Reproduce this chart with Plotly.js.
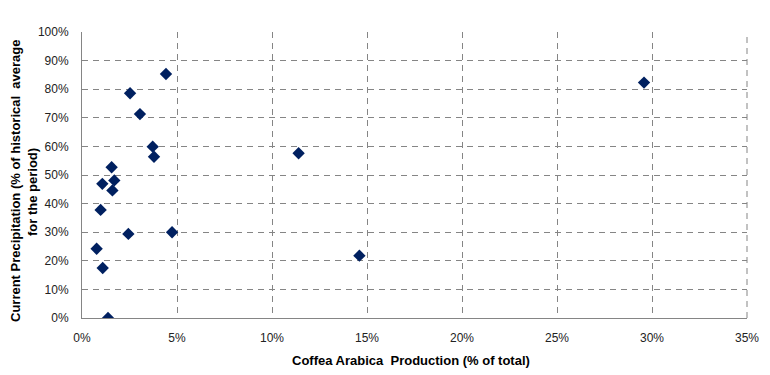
<!DOCTYPE html>
<html>
<head>
<meta charset="utf-8">
<script src="https://cdn.plot.ly/plotly-3.0.1.min.js"></script>
<style>html,body{margin:0;padding:0;background:#fff;}#chart{width:770px;height:375px;}</style>
</head>
<body>
<div id="chart"></div>
<script>
const production = [4.42, 2.53, 3.05, 3.72, 3.79, 1.56, 1.07, 1.70, 1.60, 0.98, 2.44, 4.74, 0.77, 1.09, 1.37, 11.40, 14.60, 29.58];
const precipitation = [85.3, 78.6, 71.3, 59.9, 56.4, 52.7, 46.9, 48.1, 44.6, 37.8, 29.4, 30.0, 24.2, 17.5, 0.0, 57.6, 21.8, 82.3];
const xTicks = [0, 5, 10, 15, 20, 25, 30, 35];
const yTicks = [0, 10, 20, 30, 40, 50, 60, 70, 80, 90, 100];
const xTitle = 'Coffea Arabica  Production (% of total)';
const yTitleLines = ['Current Precipitation (% of historical  average', 'for the period)'];

const trace = {
  type: 'scatter', mode: 'markers',
  x: production.map(v => v / 100),
  y: precipitation.map(v => v / 100),
  marker: {symbol: 'diamond', size: 9.5, color: '#002060', line: {width: 0}},
  hoverinfo: 'x+y'
};

const gridCol = '#858585';
const dashPat = '6px,5px';
// plot area in pixels: left 82, right 747, top 32, bottom 318
const L = 82, R = 747, T = 32, B = 318;
const px = x => (x - L) / (R - L);
const py = y => (B - y) / (B - T);
const titleFont = {family: 'Liberation Sans, Arial, sans-serif', size: 13, color: '#000'};

const layout = {
  width: 770, height: 375,
  margin: {l: L, r: 770 - R, t: T, b: 375 - B},
  paper_bgcolor: '#fff', plot_bgcolor: '#fff',
  font: {family: 'Liberation Sans, Arial, sans-serif', size: 12, color: '#000'},
  showlegend: false,
  xaxis: {
    range: [0, 0.35], tickvals: xTicks.map(v => v / 100), ticktext: xTicks.map(v => v + '%'),
    showgrid: true, gridcolor: gridCol, griddash: dashPat, gridwidth: 1,
    showline: true, linecolor: gridCol, linewidth: 1, zeroline: false,
    ticks: '', ticklabelstandoff: 9,
    tickfont: {size: 12, color: '#222'},
    fixedrange: true
  },
  yaxis: {
    range: [0, 1], tickvals: yTicks.map(v => v / 100), ticktext: yTicks.map(v => v + '%'),
    showgrid: true, gridcolor: gridCol, griddash: dashPat, gridwidth: 1,
    showline: true, linecolor: gridCol, linewidth: 1, zeroline: false,
    ticks: '', ticklabelstandoff: 10,
    tickfont: {size: 12, color: '#222'},
    fixedrange: true
  },
  shapes: [
    {type: 'line', xref: 'paper', yref: 'paper', x0: 1, x1: 1, y0: 0, y1: 1, line: {color: gridCol, width: 1, dash: dashPat}}
  ],
  annotations: [
    {text: '<b>' + xTitle + '</b>', xref: 'paper', yref: 'paper', x: px(410.5), y: py(360), xanchor: 'center', yanchor: 'middle', showarrow: false, font: titleFont},
    {text: '<b>' + yTitleLines[0] + '</b>', xref: 'paper', yref: 'paper', x: px(15), y: py(181), xanchor: 'center', yanchor: 'middle', textangle: -90, showarrow: false, font: titleFont},
    {text: '<b>' + yTitleLines[1] + '</b>', xref: 'paper', yref: 'paper', x: px(33), y: py(192), xanchor: 'center', yanchor: 'middle', textangle: -90, showarrow: false, font: titleFont}
  ]
};

Plotly.newPlot('chart', [trace], layout, {displayModeBar: false, staticPlot: true});
</script>
</body>
</html>
